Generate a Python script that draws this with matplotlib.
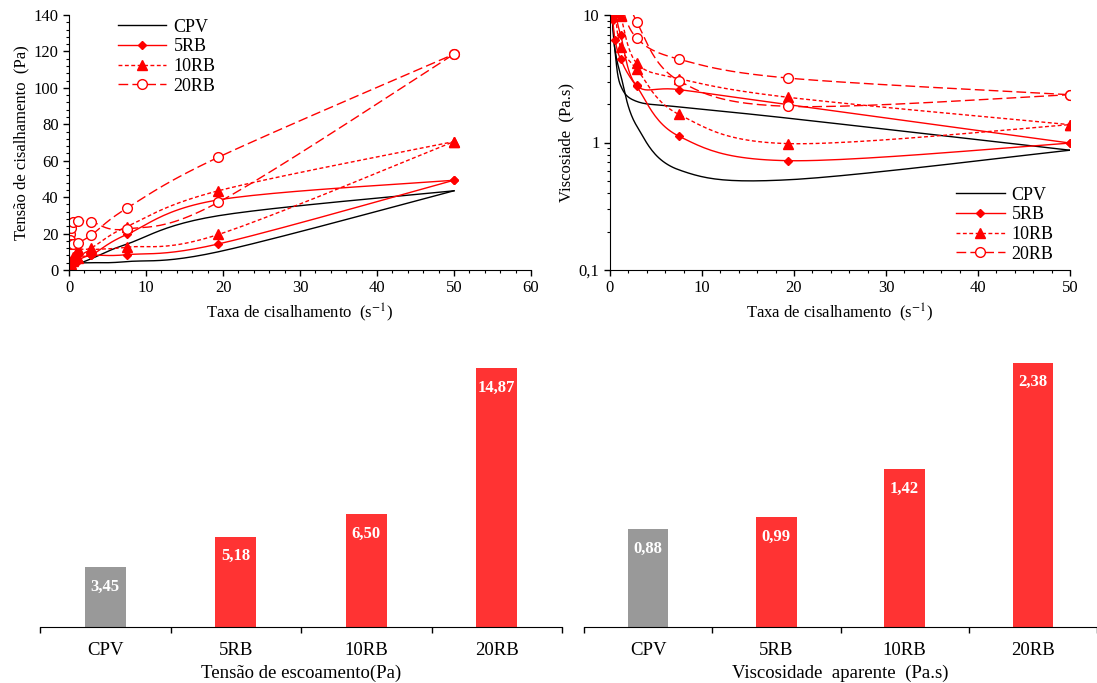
import matplotlib.pyplot as plt
import numpy as np
from matplotlib.ticker import MultipleLocator, FixedLocator, NullFormatter
from matplotlib.lines import Line2D

plt.rcParams['font.family'] = ['Liberation Serif', 'DejaVu Serif']
plt.rcParams['mathtext.fontset'] = 'stix'

# taxas de cisalhamento (s-1) - ida e volta
taxa = [0.15, 0.3, 0.55, 1.15, 2.9, 7.5, 19.4, 50]

# tensao de cisalhamento (Pa)
tens_cpv_a = [2.0, 2.5, 2.8, 3.3, 6.2, 14.2, 29.8, 43.5]
tens_cpv_b = [1.8, 2.4, 2.9, 3.8, 4.0, 4.6, 10.0, 43.5]
tens_5rb_a = [2.5, 3.0, 4.5, 8.0, 8.3, 19.5, 38.5, 49.3]
tens_5rb_b = [1.5, 2.5, 3.5, 5.2, 8.0, 8.4, 14.3, 49.3]
tens_10rb_a = [3.0, 5.0, 7.0, 11.4, 12.2, 23.8, 43.5, 70.5]
tens_10rb_b = [2.0, 3.5, 5.0, 6.5, 10.9, 12.5, 19.5, 70.5]
tens_20rb_a = [20.0, 22.9, 26.5, 27.0, 26.5, 22.5, 37.2, 118.5]
tens_20rb_b = [16.5, 14.3, 14.5, 15.0, 19.2, 33.9, 61.9, 118.5]

# viscosidade (Pa.s)
visc_cpv_a = [14, 9.0, 5.2, 2.8, 2.1, 1.9, 1.55, 0.87]
visc_cpv_b = [13, 8.0, 5.3, 3.4, 1.35, 0.61, 0.51, 0.87]
visc_5rb_a = [20, 13, 10.5, 7.0, 2.8, 2.6, 1.98, 0.99]
visc_5rb_b = [12, 9.1, 6.4, 4.5, 2.75, 1.12, 0.72, 0.99]
visc_10rb_a = [30, 20, 14, 9.9, 4.2, 3.17, 2.26, 1.38]
visc_10rb_b = [20, 13, 10.5, 5.6, 3.77, 1.66, 0.98, 1.38]
visc_20rb_a = [133, 76, 48, 23, 8.86, 3.05, 1.92, 2.37]
visc_20rb_b = [110, 48, 26, 13, 6.6, 4.5, 3.2, 2.37]

# barras
amostras = ['CPV', '5RB', '10RB', '20RB']
escoamento = [3.45, 5.18, 6.50, 14.87]
visc_aparente = [0.88, 0.99, 1.42, 2.38]


def suaviza(x, y, n=25):
    # curva suavizada tipo excel (bezier / catmull-rom)
    p = np.column_stack([x, y]).astype(float)
    P = np.vstack([p[0], p, p[-1]])
    t = np.linspace(0, 1, n)[:, None]
    partes = []
    for i in range(1, len(P) - 2):
        p0, p1, p2, p3 = P[i - 1], P[i], P[i + 1], P[i + 2]
        c1 = p1 + (p2 - p0) / 6
        c2 = p2 - (p3 - p1) / 6
        partes.append((1 - t) ** 3 * p1 + 3 * (1 - t) ** 2 * t * c1 + 3 * (1 - t) * t ** 2 * c2 + t ** 3 * p2)
    s = np.vstack(partes)
    return s[:, 0], s[:, 1]


estilos = {
    'CPV': dict(color='black', ls='-', marker=None),
    '5RB': dict(color='red', ls='-', marker='D', ms=4.5, mfc='red'),
    '10RB': dict(color='red', ls=(0, (2.8, 1.8)), marker='^', ms=6.5, mfc='red'),
    '20RB': dict(color='red', ls=(0, (7, 3)), marker='o', ms=7, mfc='white'),
}

tensoes = {'CPV': (tens_cpv_a, tens_cpv_b), '5RB': (tens_5rb_a, tens_5rb_b),
           '10RB': (tens_10rb_a, tens_10rb_b), '20RB': (tens_20rb_a, tens_20rb_b)}
viscs = {'CPV': (visc_cpv_a, visc_cpv_b), '5RB': (visc_5rb_a, visc_5rb_b),
         '10RB': (visc_10rb_a, visc_10rb_b), '20RB': (visc_20rb_a, visc_20rb_b)}

fig = plt.figure(figsize=(10.97, 6.83), dpi=100)
W, H = 1097, 683

# ---- tensao x taxa
ax1 = fig.add_axes([69 / W, 1 - 270 / H, 462 / W, 255 / H])
for nome in amostras:
    e = estilos[nome]
    for ramo in tensoes[nome]:
        xs, ys = suaviza(taxa, ramo)
        ax1.plot(xs, ys, color=e['color'], ls=e['ls'], lw=1.0)
        if e['marker']:
            ax1.plot(taxa, ramo, ls='none', marker=e['marker'], ms=e['ms'],
                     mfc=e['mfc'], mec='red', mew=1.0)

ax1.set_xlim(0, 60)
ax1.set_ylim(0, 140)
ax1.xaxis.set_major_locator(MultipleLocator(10))
ax1.xaxis.set_minor_locator(MultipleLocator(2))
ax1.yaxis.set_major_locator(MultipleLocator(20))
ax1.yaxis.set_minor_locator(MultipleLocator(4))
ax1.set_xlabel('Taxa de cisalhamento  (s$^{-1}$)', fontsize=12, labelpad=4)
ax1.set_ylabel('Tensão de cisalhamento  (Pa)', fontsize=12, labelpad=3)

# ---- viscosidade x taxa
ax2 = fig.add_axes([610 / W, 1 - 270 / H, 460 / W, 255 / H])
for nome in amostras:
    e = estilos[nome]
    for ramo in viscs[nome]:
        xs, ly = suaviza(taxa, np.log10(ramo))
        ax2.plot(xs, 10 ** ly, color=e['color'], ls=e['ls'], lw=1.0)
        if e['marker']:
            ax2.plot(taxa, ramo, ls='none', marker=e['marker'], ms=e['ms'],
                     mfc=e['mfc'], mec='red', mew=1.0)

ax2.set_yscale('log')
ax2.set_xlim(0, 50)
ax2.set_ylim(0.1, 10)
ax2.xaxis.set_major_locator(MultipleLocator(10))
ax2.xaxis.set_minor_locator(MultipleLocator(2))
ax2.yaxis.set_major_locator(FixedLocator([0.1, 1, 10]))
ax2.set_yticklabels(['0,1', '1', '10'])
ax2.yaxis.set_minor_formatter(NullFormatter())
ax2.set_xlabel('Taxa de cisalhamento  (s$^{-1}$)', fontsize=12, labelpad=4)
ax2.set_ylabel('Viscosiade  (Pa.s)', fontsize=12, labelpad=3)

for ax in (ax1, ax2):
    ax.spines['top'].set_visible(False)
    ax.spines['right'].set_visible(False)
    ax.tick_params(which='major', direction='out', length=4, width=1, labelsize=12)
    ax.tick_params(which='minor', direction='out', length=2.5, width=0.8)

# legendas
handles = []
for nome in amostras:
    e = estilos[nome]
    if e['marker']:
        handles.append(Line2D([], [], color='red', ls=e['ls'], lw=1.0, marker=e['marker'],
                              ms=e['ms'], mfc=e['mfc'], mec='red'))
    else:
        handles.append(Line2D([], [], color='black', ls='-', lw=1.0))
ax1.legend(handles, amostras, loc='upper left', bbox_to_anchor=(0.07, 1.05), frameon=False,
           fontsize=13, handlelength=2.7, handletextpad=0.4, labelspacing=0.15)
ax2.legend(handles, amostras, loc='lower right', bbox_to_anchor=(1.0, -0.035), frameon=False,
           fontsize=13, handlelength=2.7, handletextpad=0.4, labelspacing=0.15)

# ---- barras
cores = ['#999999', '#ff3333', '#ff3333', '#ff3333']
ax3 = fig.add_axes([40 / W, 1 - 627 / H, 522 / W, 287 / H])
ax4 = fig.add_axes([584 / W, 1 - 627 / H, 513 / W, 287 / H])
for ax, vals, ymax, xmax, rot in ((ax3, escoamento, 16.5, 3.5, 'Tensão de escoamento(Pa)'),
                                 (ax4, visc_aparente, 2.586, 3.44, 'Viscosidade  aparente  (Pa.s)')):
    ax.bar(range(4), vals, width=0.315, color=cores)
    ax.set_xlim(-0.5, xmax)
    ax.set_ylim(0, ymax)
    for s in ('top', 'right', 'left'):
        ax.spines[s].set_visible(False)
    ax.set_yticks([])
    ax.set_xticks([-0.5, 0.5, 1.5, 2.5, 3.5])
    ax.set_xticklabels([])
    ax.set_xticks(range(4), minor=True)
    ax.set_xticklabels(amostras, minor=True, fontsize=13.5)
    ax.tick_params(which='major', direction='out', length=4, width=1)
    ax.tick_params(which='minor', length=0, pad=11)
    ax.set_xlabel(rot, fontsize=13.5, labelpad=4)
    for i, v in enumerate(vals):
        ax.annotate(f'{v:.2f}'.replace('.', ','), (i, v), xytext=(0, -14), textcoords='offset points',
                    ha='center', va='center', color='white', fontweight='bold', fontsize=12)

fig.savefig('out.png', dpi=100)
